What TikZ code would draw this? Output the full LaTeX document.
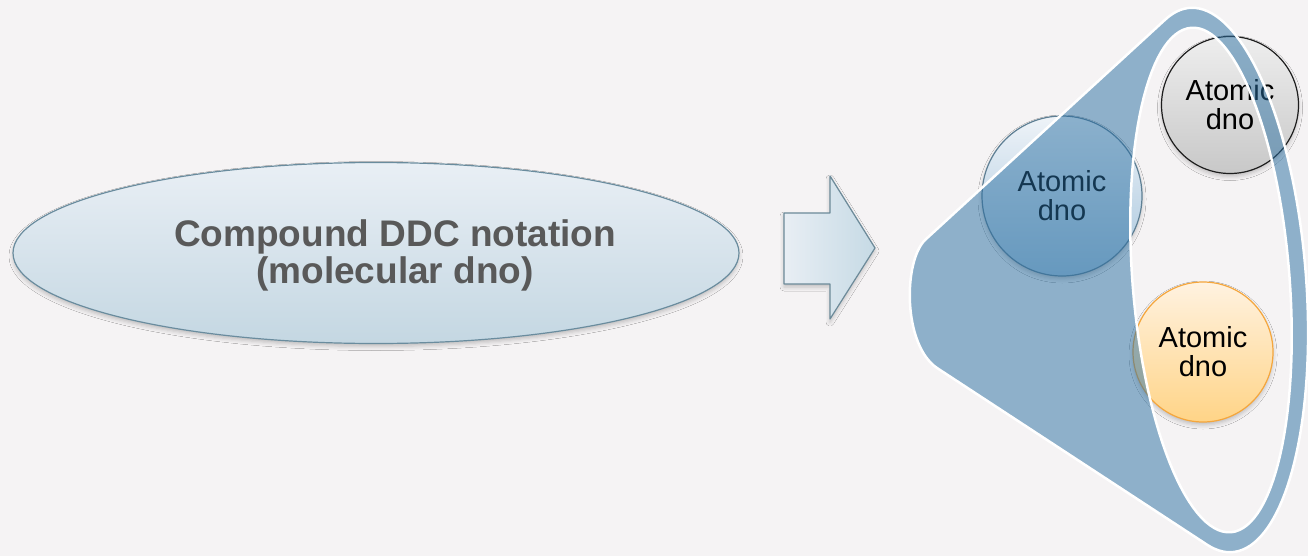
\documentclass[tikz,border=0pt]{standalone}
\usepackage{fontspec}
\setmainfont{Liberation Sans}
\usetikzlibrary{shapes.geometric,shadows.blur}
\definecolor{paper}{RGB}{245,243,244}
\definecolor{capsuletop}{RGB}{233,239,245}
\definecolor{capsulebot}{RGB}{196,215,226}
\definecolor{capsuleedge}{RGB}{106,140,158}
\definecolor{labelgray}{RGB}{89,89,89}
\definecolor{arrowleft}{RGB}{232,238,244}
\definecolor{arrowright}{RGB}{198,218,229}
\definecolor{arrowedge}{RGB}{108,138,153}
\definecolor{funnelblue}{RGB}{41,111,162}
\definecolor{bluetop}{RGB}{238,243,248}
\definecolor{bluebot}{RGB}{165,196,220}
\definecolor{blueedge}{RGB}{94,127,148}
\definecolor{graytop}{RGB}{238,238,238}
\definecolor{graybot}{RGB}{200,200,200}
\definecolor{grayedge}{RGB}{30,30,30}
\definecolor{orangetop}{RGB}{255,242,224}
\definecolor{orangebot}{RGB}{255,212,135}
\definecolor{orangeedge}{RGB}{245,166,60}

\begin{document}
\begin{tikzpicture}[x=1pt,y=-1pt,
    softshadow/.style={blur shadow={shadow xshift=0pt,shadow yshift=-3pt,shadow blur radius=4pt,shadow opacity=22}},
    molecule/.style={ellipse,draw=capsuleedge,line width=1.2pt,top color=capsuletop,bottom color=capsulebot,minimum width=726pt,minimum height=181pt,inner sep=0pt,softshadow},
    atom/.style={circle,line width=1.2pt,minimum size=#1,inner sep=0pt,align=center,font=\fontsize{29}{29}\selectfont,softshadow},
    funnel/.style={fill=funnelblue,fill opacity=0.5,draw=white,line width=2.5pt,line join=round,even odd rule}]
    \fill[paper] (0,0) rectangle (1308,556);
    \useasboundingbox (0,0) rectangle (1308,556);
    \node[molecule] (compound) at (376,253) {};
    \node[align=center,text=labelgray,font=\bfseries\fontsize{37}{37}\selectfont] (compoundlabel) at (395,255) {Compound DDC notation\\(molecular dno)};
    \draw[line width=1.2pt,draw=arrowedge,left color=arrowleft,right color=arrowright,line join=round,softshadow]
        (784,213) -- (830,213) -- (830,176) -- (875,248) -- (830,319) -- (830,284) -- (784,284) -- cycle;
    \node[atom=160pt,draw=blueedge,top color=bluetop,bottom color=bluebot] (a1) at (1062,196) {Atomic\\dno};
    \node[atom=137pt,draw=grayedge,top color=graytop,bottom color=graybot] (a2) at (1230,105) {Atomic\\dno};
    \node[atom=140pt,draw=orangeedge,top color=orangetop,bottom color=orangebot] (a3) at (1203,352) {Atomic\\dno};
    \path[funnel] (925,240)
        -- plot[variable=\t,domain=254.77:465.06,samples=90]
           ({1211+95*cos(\t)*cos(4.5)+273*sin(\t)*sin(4.5)},{280-95*cos(\t)*sin(4.5)+273*sin(\t)*cos(4.5)})
        -- (937,368) .. controls (903,345) and (903,262) .. (925,240) -- cycle
        plot[variable=\t,domain=0:360,samples=121]
           ({1211+78.5*cos(\t)*cos(4.5)+253*sin(\t)*sin(4.5)},{280-78.5*cos(\t)*sin(4.5)+253*sin(\t)*cos(4.5)}) -- cycle;
\end{tikzpicture}
\end{document}
